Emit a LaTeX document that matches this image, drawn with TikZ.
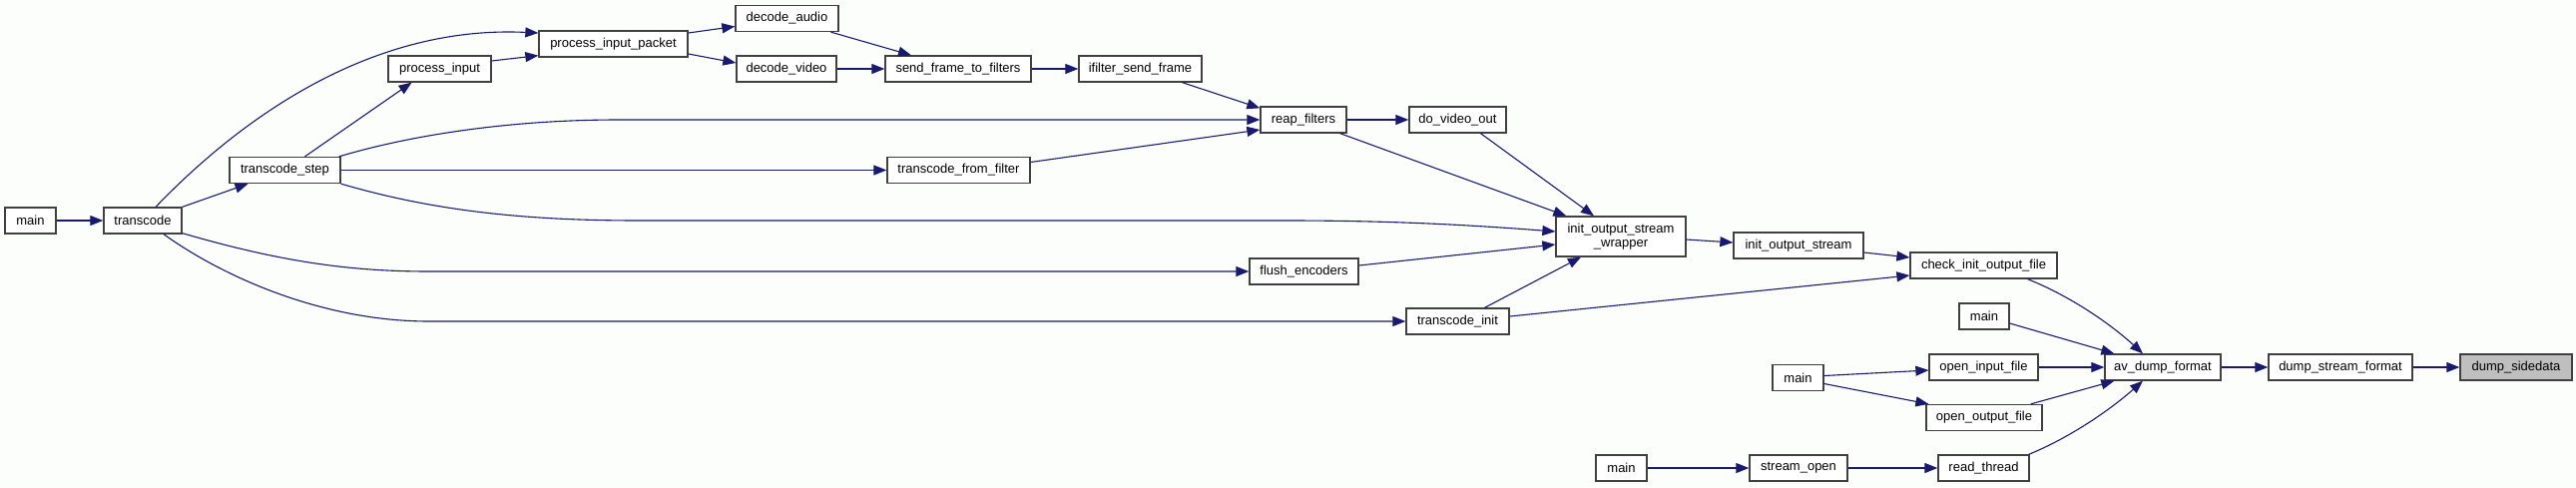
\documentclass[tikz,border=0pt]{standalone}
\usepackage{fontspec}
\setmainfont{Liberation Sans}
\usetikzlibrary{arrows.meta,calc}
\definecolor{edgecol}{HTML}{191970}
\definecolor{bordcol}{HTML}{404040}
\definecolor{bgcol}{HTML}{FCFEFC}
\definecolor{hlcol}{HTML}{BFBFBF}
\begin{document}
\begin{tikzpicture}[x=1pt,y=-1pt,
  fn/.style={draw=bordcol, fill=white, line width=1.3pt, inner sep=0pt, minimum height=26pt, font=\fontsize{13}{14}\selectfont},
  call/.style={draw=edgecol, line width=1.1pt, -{Triangle[length=13pt,width=10pt]}}]
\fill[bgcol] (0,0) rectangle (2581,488);
\useasboundingbox (0,0) rectangle (2581,488);
% nodes
\node[fn, minimum width=51pt] (mainA) at (30.5,221) {main};
\node[fn, minimum width=78pt] (transcode) at (143,221) {transcode};
\node[fn, minimum width=111pt] (tstep) at (285.5,170.5) {transcode\_step};
\node[fn, minimum width=103pt] (pi) at (440.5,69) {process\_input};
\node[fn, minimum width=149pt] (pip) at (614.5,44) {process\_input\_packet};
\node[fn, minimum width=103pt] (da) at (788.5,18.5) {decode\_audio};
\node[fn, minimum width=100pt] (dv) at (788,69) {decode\_video};
\node[fn, minimum width=146pt] (sftf) at (960,69) {send\_frame\_to\_filters};
\node[fn, minimum width=123pt] (ifsf) at (1142.5,69) {ifilter\_send\_frame};
\node[fn, minimum width=86pt] (reap) at (1306,120) {reap\_filters};
\node[fn, minimum width=143pt] (tff) at (960.5,170.5) {transcode\_from\_filter};
\node[fn, minimum width=97pt] (dvo) at (1460.5,120) {do\_video\_out};
\node[fn, minimum width=109pt] (flush) at (1306.5,272) {flush\_encoders};
\node[fn, minimum width=103pt] (tinit) at (1460.5,322) {transcode\_init};
\node[fn, minimum width=130pt, minimum height=40pt, align=center] (wrapper) at (1624,237) {init\_output\_stream\\\_wrapper};
\node[fn, minimum width=130pt] (ios) at (1802,246) {init\_output\_stream};
\node[fn, minimum width=147pt] (ciof) at (1987.5,266) {check\_init\_output\_file};
\node[fn, minimum width=50pt] (mainB) at (1988,317) {main};
\node[fn, minimum width=109pt] (oif) at (1987.5,368) {open\_input\_file};
\node[fn, minimum width=51pt] (mainC) at (1801.5,378.5) {main};
\node[fn, minimum width=116pt] (oof) at (1988,418.5) {open\_output\_file};
\node[fn, minimum width=51pt] (mainD) at (1624.5,469) {main};
\node[fn, minimum width=98pt] (so) at (1802,469) {stream\_open};
\node[fn, minimum width=91pt] (rt) at (1987.5,469) {read\_thread};
\node[fn, minimum width=116pt] (adf) at (2167,368) {av\_dump\_format};
\node[fn, minimum width=144pt] (dsf) at (2345,368) {dump\_stream\_format};
\node[fn, minimum width=112pt, fill=hlcol] (dsd) at (2521,368) {dump\_sidedata};
% edges
\draw[call] (mainA.east) -- (transcode.west);
\draw[call] (transcode.north east) -- ($(tstep.south)+(-37,0)$);
\draw[call] ($(transcode.north)+(13,0)$) .. controls (240,120) and (370,25) .. ($(pip.west)+(0,-11)$);
\draw[call] ($(transcode.south east)+(0,-1)$) .. controls (280,262) and (350,272) .. (430,272) -- (flush.west);
\draw[call] ($(transcode.south)+(21,0)$) .. controls (220,275) and (320,322) .. (430,322) -- (tinit.west);
\draw[call] ($(tstep.north)+(20,0)$) -- ($(pi.south)+(-28,0)$);
\draw[call] ($(tstep.north east)+(-2,0)$) .. controls (420,133) and (520,120) .. (620,120) -- (reap.west);
\draw[call] (tstep.east) -- (tff.west);
\draw[call] (tstep.south east) .. controls (430,210) and (520,221) .. (640,221) -- (1290,221) .. controls (1400,221) and (1480,226) .. ($(wrapper.west)+(0,-5)$);
\draw[call] ($(pi.east)+(0,-8)$) -- ($(pip.south west)+(0,-2)$);
\draw[call] ($(pip.east)+(0,-11)$) -- ($(da.west)+(0,8)$);
\draw[call] ($(pip.east)+(0,10)$) -- ($(dv.west)+(0,-6)$);
\draw[call] ($(da.south)+(44,0)$) -- ($(sftf.north)+(-47,0)$);
\draw[call] (dv.east) -- (sftf.west);
\draw[call] (sftf.east) -- (ifsf.west);
\draw[call] ($(ifsf.south)+(42,0)$) -- ($(reap.north west)+(0,2)$);
\draw[call] ($(tff.east)+(0,-8)$) -- ($(reap.west)+(0,10)$);
\draw[call] (reap.east) -- (dvo.west);
\draw[call] ($(reap.south east)+(-7,0)$) -- ($(wrapper.north west)+(11,0)$);
\draw[call] ($(dvo.south)+(23,0)$) -- ($(wrapper.north)+(-27,0)$);
\draw[call] ($(flush.east)+(0,-6)$) -- ($(wrapper.west)+(0,8)$);
\draw[call] ($(tinit.north)+(27,0)$) -- ($(wrapper.south)+(-40,0)$);
\draw[call] ($(tinit.east)+(0,-5)$) -- ($(ciof.west)+(0,10)$);
\draw[call] ($(wrapper.east)+(0,3)$) -- ($(ios.west)+(0,-3)$);
\draw[call] ($(ios.east)+(0,7)$) -- ($(ciof.west)+(0,-8)$);
\draw[call] ($(ciof.south)+(44,0)$) .. controls (2075,297) and (2115,325) .. ($(adf.north)+(-20,0)$);
\draw[call] ($(mainB.east)+(0,7)$) -- ($(adf.north west)+(10,0)$);
\draw[call] (oif.east) -- (adf.west);
\draw[call] ($(oof.north east)+(-12,0)$) -- ($(adf.south west)+(10,0)$);
\draw[call] ($(rt.north east)+(-1,0)$) .. controls (2075,438) and (2115,410) .. ($(adf.south)+(-20,0)$);
\draw[call] ($(mainC.east)+(0,-2)$) -- ($(oif.west)+(0,3)$);
\draw[call] ($(mainC.east)+(0,6)$) -- ($(oof.north west)+(3,0)$);
\draw[call] (mainD.east) -- (so.west);
\draw[call] (so.east) -- (rt.west);
\draw[call] (adf.east) -- (dsf.west);
\draw[call] (dsf.east) -- (dsd.west);
\end{tikzpicture}
\end{document}
